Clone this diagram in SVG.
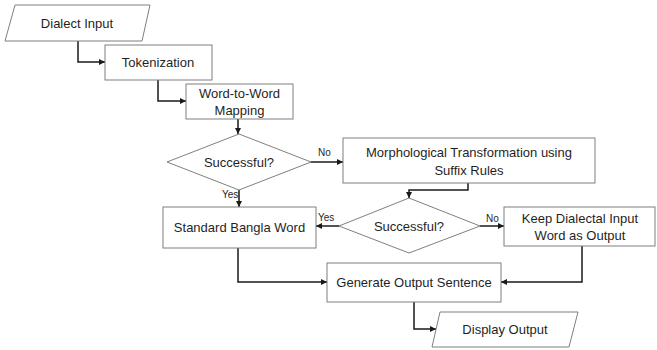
<svg xmlns="http://www.w3.org/2000/svg" width="657" height="350" viewBox="0 0 657 350">
  <defs>
    <marker id="arrow" viewBox="0 0 6 6" refX="6" refY="3" markerWidth="6" markerHeight="6" markerUnits="userSpaceOnUse" orient="auto">
      <path d="M0,0 L6,3 L0,6 z" fill="#1a1a1a"/>
    </marker>
    <style>
      .shape { fill: #ffffff; stroke: #7f7f7f; stroke-width: 1; }
      .txt { font-family: "Liberation Sans", Arial, sans-serif; font-size: 13px; fill: #1f1f1f; text-anchor: middle; dominant-baseline: central; }
      .lbl { font-family: "Liberation Sans", Arial, sans-serif; font-size: 10px; fill: #1f1f1f; }
      .conn { fill: none; stroke: #1a1a1a; stroke-width: 1.5; marker-end: url(#arrow); }
    </style>
  </defs>
  <rect width="657" height="350" fill="#ffffff"/>

  <g id="connectors">
    <polyline class="conn" points="78,41 78,62 105,62"/>
    <polyline class="conn" points="158,80 158,101 186,101"/>
    <polyline class="conn" points="238,119 238,134"/>
    <polyline class="conn" points="311,162 343,162"/>
    <polyline class="conn" points="239,190 239,207"/>
    <polyline class="conn" points="468,183 468,190 409,190 409,198"/>
    <polyline class="conn" points="339,226 316,226"/>
    <polyline class="conn" points="480,226 504,226"/>
    <polyline class="conn" points="238,248 238,282 327,282"/>
    <polyline class="conn" points="582,246 582,282 501,282"/>
    <polyline class="conn" points="414,302 414,329 436,329"/>
    <text class="lbl" x="318" y="156">No</text>
    <text class="lbl" x="222" y="198">Yes</text>
    <text class="lbl" x="318" y="221">Yes</text>
    <text class="lbl" x="486" y="222">No</text>
  </g>

  <g id="dialect-input">
    <polygon class="shape" points="15,5 150,5 142,41 5,41"/>
    <text class="txt" x="77" y="23">Dialect Input</text>
  </g>

  <g id="tokenization">
    <rect class="shape" x="105" y="45" width="107" height="35"/>
    <text class="txt" x="158" y="62.5">Tokenization</text>
  </g>

  <g id="word-mapping">
    <rect class="shape" x="186" y="84" width="107" height="35"/>
    <text class="txt" x="239.5" y="93">Word-to-Word</text>
    <text class="txt" x="239.5" y="110">Mapping</text>
  </g>

  <g id="decision-1">
    <polygon class="shape" points="239,134 311,162 239,190 167,162"/>
    <text class="txt" x="239" y="162">Successful?</text>
  </g>

  <g id="morphological">
    <rect class="shape" x="343" y="138" width="252" height="45"/>
    <text class="txt" x="469" y="152">Morphological Transformation using</text>
    <text class="txt" x="469" y="170">Suffix Rules</text>
  </g>

  <g id="standard-word">
    <rect class="shape" x="163" y="207" width="153" height="41"/>
    <text class="txt" x="239.5" y="227.5">Standard Bangla Word</text>
  </g>

  <g id="decision-2">
    <polygon class="shape" points="409,198 480,226 409,253 339,226"/>
    <text class="txt" x="409" y="226">Successful?</text>
  </g>

  <g id="keep-dialectal">
    <rect class="shape" x="504" y="207" width="151" height="39"/>
    <text class="txt" x="580" y="218">Keep Dialectal Input</text>
    <text class="txt" x="580" y="235">Word as Output</text>
  </g>

  <g id="generate-output">
    <rect class="shape" x="327" y="263" width="174" height="39"/>
    <text class="txt" x="414" y="282.5">Generate Output Sentence</text>
  </g>

  <g id="display-output">
    <polygon class="shape" points="440,312 578,312 569,347 432,347"/>
    <text class="txt" x="505" y="329.5">Display Output</text>
  </g>
</svg>
